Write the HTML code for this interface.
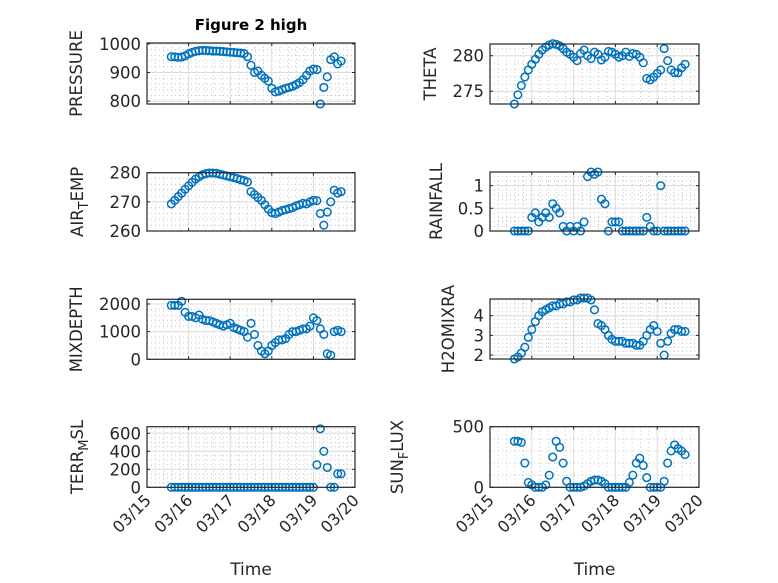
<!DOCTYPE html>
<html><head><meta charset="utf-8"><style>
html,body{margin:0;padding:0;background:#fff;}
svg{display:block;font-family:"DejaVu Sans","Liberation Sans",sans-serif;}
</style></head><body>
<svg id="fig" width="778" height="583" viewBox="0 0 778 583" xmlns="http://www.w3.org/2000/svg">
<rect width="778" height="583" fill="#fff"/>
<text x="251" y="30" text-anchor="middle" font-size="15" font-weight="bold" fill="#000">Figure 2 high</text>
</svg>
<script>
// time in hours after 03/15 00:00
const hours = [14,16,18,20,22,24,26,28,30,32,34,36,38,40,42,44,46,48,50,52,54,56,58,60,62,64,66,68,70,72,74,76,78,80,82,84,86,88,90,92,94,96,98,100,102,104,106,108,110,112];
const pressure = [955,955,953,954,958,965,970,974,976,977,977,976,975,975,974,973,972,971,970,969,968,966,955,925,900,905,890,880,870,845,832,835,840,845,848,852,858,865,875,890,905,912,910,790,848,885,945,955,930,940];
const theta = [273.2,274.5,275.8,277,278,278.8,279.5,280.2,280.8,281.2,281.5,281.7,281.6,281.4,281,280.5,280.2,279.8,279.3,280.3,280.8,280,279.6,280.5,280.2,279.4,279.8,280.6,280.5,280.2,279.8,280,280.5,279.9,280.3,280.2,279.8,279,276.8,276.6,277,277.5,278,281,279.3,278,277.6,277.6,278.3,278.8];
const airTemp = [269.3,270.5,271.8,273,274.3,275.5,276.7,277.8,278.6,279.3,279.7,279.9,279.9,279.8,279.5,279.2,278.9,278.6,278.3,278,277.6,277.3,276.8,273.5,272.5,271.5,270.5,269,267.5,266.3,266,266.5,267,267.3,267.7,268,268.6,269,269.5,269.3,270,270.5,270.4,266,262,266.5,270,274,273,273.5];
const rainfall = [0,0,0,0,0,0.3,0.4,0.2,0.3,0.4,0.3,0.6,0.5,0.4,0.1,0,0.1,0,0.1,0,0.2,1.2,1.3,1.25,1.3,0.7,0.6,0,0.2,0.2,0.2,0,0,0,0,0,0,0,0.3,0.1,0,0,1.0,0,0,0,0,0,0,0];
const mixDepth = [1950,1950,1950,2100,1700,1550,1550,1500,1600,1450,1400,1400,1350,1300,1250,1200,1250,1300,1150,1100,1050,1000,800,1300,900,500,300,200,300,500,600,700,700,750,900,1000,1000,1050,1100,1100,1200,1500,1400,1100,900,200,150,1000,1050,1000];
const h2oMix = [1.8,1.9,2.1,2.4,2.9,3.3,3.7,4.0,4.2,4.3,4.4,4.5,4.5,4.6,4.6,4.7,4.7,4.8,4.8,4.9,4.9,4.9,4.8,4.3,3.6,3.5,3.3,3.0,2.8,2.7,2.7,2.7,2.6,2.6,2.6,2.5,2.5,2.7,3.0,3.3,3.5,3.2,2.6,2.0,2.7,3.1,3.3,3.3,3.2,3.2];
const terrMsl = [0,0,0,0,0,0,0,0,0,0,0,0,0,0,0,0,0,0,0,0,0,0,0,0,0,0,0,0,0,0,0,0,0,0,0,0,0,0,0,0,0,0,250,650,400,220,0,0,150,150];
const sunFlux = [380,380,370,200,40,20,0,0,0,20,100,250,380,330,200,50,0,0,0,0,10,30,50,60,60,50,30,0,0,0,0,0,0,40,100,200,240,180,80,0,0,0,0,50,200,300,350,320,300,270];
const xTickLabels = ["03/15","03/16","03/17","03/18","03/19","03/20"];
const xDomain = [0,120];

const NS="http://www.w3.org/2000/svg";
const svg=document.getElementById('fig');
function mk(tag,attrs,parent){const e=document.createElementNS(NS,tag);for(const k in attrs)e.setAttribute(k,attrs[k]);(parent||svg).appendChild(e);return e;}

const panels=[
 {name:'pressure',vals:pressure,x0:147,x1:355,y0:43,y1:104,lo:790,hi:1003,ticks:[800,900,1000],tl:['800','900','1000'],minor:20,label:['PRESSURE'],lx:82,last:false},
 {name:'theta',vals:theta,x0:490,x1:699,y0:44,y1:104,lo:273.2,hi:281.65,ticks:[275,280],tl:['275','280'],minor:1,label:['THETA'],lx:436,last:false},
 {name:'air-temp',vals:airTemp,x0:147,x1:355,y0:172.7,y1:231,lo:260,hi:280,ticks:[260,270,280],tl:['260','270','280'],minor:2,label:['AIR','T','EMP'],lx:83,last:false},
 {name:'rainfall',vals:rainfall,x0:490,x1:699,y0:172,y1:231,lo:0,hi:1.3,ticks:[0,0.5,1],tl:['0','0.5','1'],minor:0.1,label:['RAINFALL'],lx:442,last:false},
 {name:'mixdepth',vals:mixDepth,x0:147,x1:355,y0:299.3,y1:359.3,lo:0,hi:2170,ticks:[0,1000,2000],tl:['0','1000','2000'],minor:200,label:['MIXDEPTH'],lx:82,last:false},
 {name:'h2omixra',vals:h2oMix,x0:490,x1:699,y0:299,y1:359,lo:1.8,hi:4.85,ticks:[2,3,4],tl:['2','3','4'],minor:0.2,label:['H2OMIXRA'],lx:454,last:false},
 {name:'terr-msl',vals:terrMsl,x0:147,x1:355,y0:426.7,y1:487.3,lo:0,hi:673,ticks:[0,200,400,600],tl:['0','200','400','600'],minor:50,label:['TERR','M','SL'],lx:83,last:true},
 {name:'sun-flux',vals:sunFlux,x0:490,x1:699,y0:426.7,y1:487.3,lo:0,hi:500,ticks:[0,500],tl:['0','500'],minor:100,label:['SUN','F','LUX'],lx:403,last:true}
];

panels.forEach(p=>{
  const g=mk('g',{});
  
  
  const sx=v=>p.x0+(v-xDomain[0])/(xDomain[1]-xDomain[0])*(p.x1-p.x0);
  const sy=v=>p.y1-(v-p.lo)/(p.hi-p.lo)*(p.y1-p.y0);
  mk('rect',{x:p.x0,y:p.y0,width:p.x1-p.x0,height:p.y1-p.y0,fill:'#fff'},g);
  for(let h=xDomain[0];h<=xDomain[1];h+=4.8){ if(h%24<0.01||h%24>23.99)continue;
    mk('line',{x1:sx(h),x2:sx(h),y1:p.y0,y2:p.y1,stroke:'#c8c8c8','stroke-width':1,'stroke-dasharray':'1 3'},g);}
  const m0=Math.ceil(p.lo/p.minor)*p.minor;
  for(let v=m0;v<=p.hi+1e-9;v+=p.minor){ const y=sy(v);
    mk('line',{x1:p.x0,x2:p.x1,y1:y,y2:y,stroke:'#c8c8c8','stroke-width':1,'stroke-dasharray':'1 3'},g);}
  for(let i=1;i<xTickLabels.length-1;i++){const x=sx(i*24);
    mk('line',{x1:x,x2:x,y1:p.y0,y2:p.y1,stroke:'#dcdcdc','stroke-width':1},g);}
  p.ticks.forEach(v=>{const y=sy(v);
    mk('line',{x1:p.x0,x2:p.x1,y1:y,y2:y,stroke:'#dcdcdc','stroke-width':1},g);});
  p.vals.forEach((v,i)=>{
    const c=mk('circle',{cx:sx(hours[i]).toFixed(2),cy:sy(v).toFixed(2),r:3.8,fill:'none',stroke:'#0072BD','stroke-width':1.5},g);
    
    
  });
  mk('rect',{x:p.x0,y:p.y0,width:p.x1-p.x0,height:p.y1-p.y0,fill:'none',stroke:'#262626','stroke-width':1.2},g);
  xTickLabels.forEach((lab,i)=>{const x=sx(i*24);
    mk('line',{x1:x,x2:x,y1:p.y1,y2:p.y1-3,stroke:'#262626'},g);
    mk('line',{x1:x,x2:x,y1:p.y0,y2:p.y0+3,stroke:'#262626'},g);
    if(p.last){const t=mk('text',{x:x+5,y:p.y1+14,'text-anchor':'end','font-size':16,fill:'#262626',transform:`rotate(-45 ${x+5} ${p.y1+14})`},g);t.textContent=lab;
      
      }
  });
  p.ticks.forEach((v,i)=>{const y=sy(v);
    mk('line',{x1:p.x0,x2:p.x0+3,y1:y,y2:y,stroke:'#262626'},g);
    mk('line',{x1:p.x1,x2:p.x1-3,y1:y,y2:y,stroke:'#262626'},g);
    const t=mk('text',{x:p.x0-6,y:y+6,'text-anchor':'end','font-size':16.5,fill:'#262626'},g);t.textContent=p.tl[i];
    
    
  });
  const cy=(p.y0+p.y1)/2;
  const t=mk('text',{x:p.lx,y:cy,'text-anchor':'middle','font-size':16.5,fill:'#262626',transform:`rotate(-90 ${p.lx} ${cy})`},g);
  
  
  if(p.label.length===1){t.textContent=p.label[0];}
  else{
    const a=mk('tspan',{},t);a.textContent=p.label[0];
    const b=mk('tspan',{dy:5,'font-size':13},t);b.textContent=p.label[1];
    const c=mk('tspan',{dy:-5},t);c.textContent=p.label[2];
  }
  if(p.last){
    const tt=mk('text',{x:(p.x0+p.x1)/2,y:575,'text-anchor':'middle','font-size':17,fill:'#262626'},g);tt.textContent='Time';
    
    
  }
});
</script>
</body></html>
